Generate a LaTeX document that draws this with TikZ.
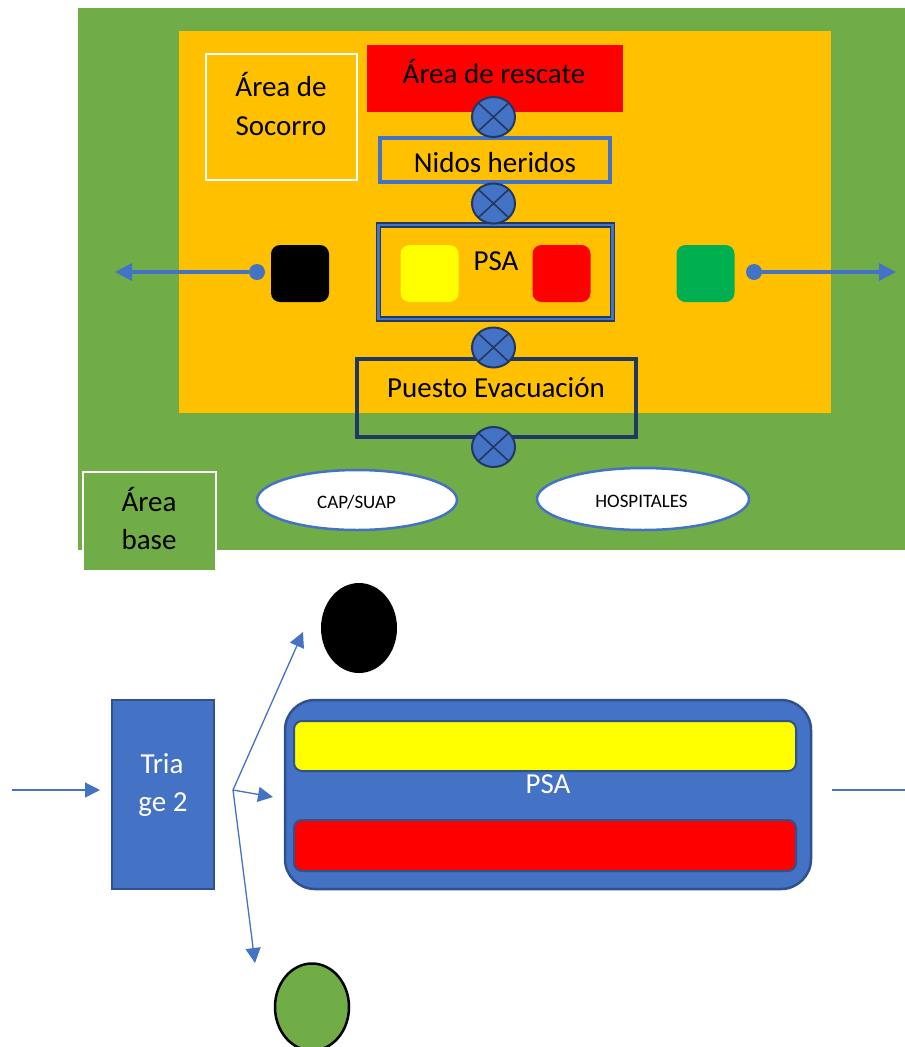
\documentclass[tikz,border=0pt]{standalone}
\usepackage{fontspec}
\setmainfont{Carlito}
\usetikzlibrary{arrows.meta,shapes.geometric}

\definecolor{fieldgreen}{HTML}{70AD47}
\definecolor{zoneorange}{HTML}{FFC000}
\definecolor{stdblue}{HTML}{4472C4}
\definecolor{edgeblue}{HTML}{2F528F}
\definecolor{navy}{HTML}{203864}
\definecolor{tagyellow}{HTML}{FFFF00}
\definecolor{tagred}{HTML}{FF0000}
\definecolor{taggreen}{HTML}{00B050}

\begin{document}
\begin{tikzpicture}[x=1pt,y=-1pt,
  zone/.style={rectangle, inner sep=0pt, outer sep=0pt},
  lbl/.style={inner sep=0pt, anchor=base, font=\fontsize{29}{35}\selectfont},
  smalllbl/.style={inner sep=0pt, anchor=base, font=\fontsize{19}{23}\selectfont},
  gate/.style={ellipse, inner sep=0pt, minimum width=43pt, minimum height=40pt,
    fill=stdblue, draw=navy, line width=2pt,
    path picture={\draw[navy, line width=1.6pt]
      (path picture bounding box.north west) -- (path picture bounding box.south east)
      (path picture bounding box.north east) -- (path picture bounding box.south west);}},
  tag/.style={rectangle, inner sep=0pt, rounded corners=9pt, minimum width=58pt, minimum height=57pt},
  dot/.style={circle, inner sep=0pt, minimum size=16pt, fill=stdblue},
  widearrow/.style={draw=stdblue, line width=3.5pt, -{Triangle[length=17pt,width=17pt]}},
  thinarrow/.style={draw=stdblue, line width=1.3pt, -{Triangle[length=15pt,width=15pt]}},
  place/.style={ellipse, inner sep=0pt, fill=white, draw=stdblue, line width=2.5pt},
  bar/.style={rectangle, inner sep=0pt, rounded corners=8pt, draw=edgeblue, line width=2pt,
    minimum width=502pt}
]
\useasboundingbox (0,0) rectangle (905,1047);
\fill[white] (0,0) rectangle (905,1047);

% ---------- site plan ----------
\node[zone, fill=fieldgreen, minimum width=827pt, minimum height=542pt] (base) at (491.5,279) {};
\node[zone, fill=zoneorange, minimum width=652pt, minimum height=382pt] (socorro) at (505,222) {};

\node[zone, draw=white, line width=2.5pt, minimum width=151pt, minimum height=126pt] (socbox) at (281.5,117) {};
\node[lbl] (soc1) at (281,96) {Área de};
\node[lbl] (soc2) at (281,135) {Socorro};

\node[zone, fill=tagred, minimum width=256pt, minimum height=67pt] (rescate) at (495,78.5) {};
\node[lbl] (rescatetxt) at (494,83) {Área de rescate};

\node[zone, draw=stdblue, line width=4pt, minimum width=230pt, minimum height=44pt] (nidos) at (495,159.5) {};
\node[lbl] (nidostxt) at (495,172) {Nidos heridos};

\node[zone, draw=navy, double=stdblue, line width=1.5pt, double distance=2.5pt,
      minimum width=234pt, minimum height=94pt] (psatop) at (495.5,272) {};
\node[lbl] (psatoptxt) at (496,270) {PSA};
\node[tag, fill=tagyellow] (ytag) at (429.5,273.5) {};
\node[tag, fill=tagred] (rtag) at (561.5,273.5) {};

\node[tag, fill=black] (ktag) at (300,273.5) {};
\node[tag, fill=taggreen] (gtag) at (705.5,273.5) {};

\node[dot] (dotL) at (257,272) {};
\node[dot] (dotR) at (754,272) {};
\coordinate (tipL) at (115,272);
\coordinate (tipR) at (896,272);
\draw[widearrow] (dotL) -- (tipL);
\draw[widearrow] (dotR) -- (tipR);

\node[zone, draw=navy, line width=4pt, minimum width=279pt, minimum height=78pt] (evac) at (496.5,398) {};
\node[lbl] (evactxt) at (496,397) {Puesto Evacuación};

\node[gate] (g1) at (493.5,117) {};
\node[gate] (g2) at (493.5,203.5) {};
\node[gate] (g3) at (493.5,347.5) {};
\node[gate] (g4) at (493.5,447) {};

\node[zone, fill=fieldgreen, draw=white, line width=2.5pt, minimum width=133pt, minimum height=99pt] (areabase) at (149.5,521.5) {};
\node[lbl] (ab1) at (149,511) {Área};
\node[lbl] (ab2) at (149,549) {base};

\node[place, minimum width=200pt, minimum height=60pt] (cap) at (357,500) {};
\node[smalllbl] (captxt) at (356.5,508) {CAP/SUAP};
\node[place, minimum width=212pt, minimum height=62pt] (hosp) at (643,499) {};
\node[smalllbl] (hosptxt) at (641.5,507) {HOSPITALES};

% ---------- triage flow ----------
\node[zone, fill=stdblue, draw=edgeblue, line width=2pt, minimum width=102pt, minimum height=189pt] (tri) at (163,794.5) {};
\node[lbl, text=white] (tri1) at (162,773) {Tria};
\node[lbl, text=white] (tri2) at (163,811) {ge 2};

\node[zone, fill=stdblue, draw=edgeblue, line width=2.5pt, rounded corners=30pt,
      minimum width=526pt, minimum height=189pt] (psa) at (548,794.5) {};
\node[bar, fill=tagyellow, minimum height=50pt] (ybar) at (545,746) {};
\node[bar, fill=tagred, minimum height=51pt] (rbar) at (545,845.5) {};
\node[lbl, text=white] (psatxt) at (548,793) {PSA};

\node[ellipse, inner sep=0pt, fill=black, minimum width=76pt, minimum height=90pt] (dead) at (359,628) {};
\node[ellipse, inner sep=0pt, fill=fieldgreen, draw=black, line width=2.5pt,
      minimum width=74pt, minimum height=87pt] (minor) at (312,1007) {};

\coordinate (inL) at (12,790);
\coordinate (fork) at (233,790);
\coordinate (tipUp) at (303,632);
\coordinate (tipMid) at (273,797);
\coordinate (tipDown) at (255,963);
\coordinate (outR) at (905,790);

\draw[thinarrow, shorten >=12pt] (inL) -- (tri.west |- inL);
\draw[thinarrow] (fork) -- (tipUp);
\draw[thinarrow] (fork) -- (tipMid);
\draw[thinarrow] (fork) -- (tipDown);
\draw[draw=stdblue, line width=1.3pt, shorten <=21pt] (psa.east |- outR) -- (outR);
\end{tikzpicture}
\end{document}
